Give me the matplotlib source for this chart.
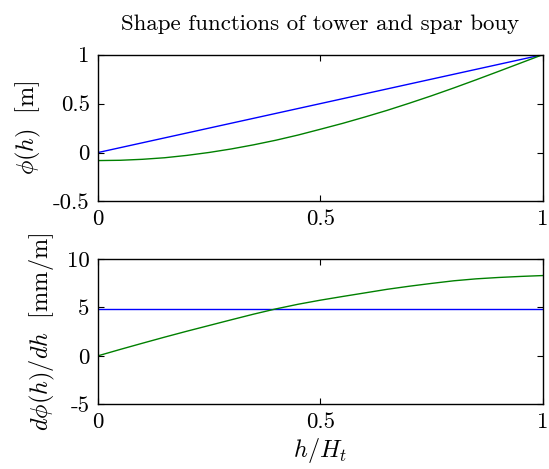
import matplotlib
matplotlib.use("Agg")
import matplotlib.pyplot as plt

plt.rcParams['font.family'] = 'serif'
plt.rcParams['font.serif'] = ['cmr10', 'DejaVu Serif']
plt.rcParams['mathtext.fontset'] = 'cm'
plt.rcParams['axes.unicode_minus'] = False

h = [0.00, 0.05, 0.10, 0.15, 0.20, 0.25, 0.30, 0.35, 0.40, 0.45, 0.50,
     0.55, 0.60, 0.65, 0.70, 0.75, 0.80, 0.85, 0.90, 0.95, 1.00]
phi_tower = [0.00, 0.05, 0.10, 0.15, 0.20, 0.25, 0.30, 0.35, 0.40, 0.45, 0.50,
             0.55, 0.60, 0.65, 0.70, 0.75, 0.80, 0.85, 0.90, 0.95, 1.00]
phi_spar = [-0.082, -0.079, -0.069, -0.053, -0.029, 0.001, 0.037, 0.079, 0.126, 0.179, 0.238,
            0.298, 0.363, 0.431, 0.504, 0.580, 0.660, 0.743, 0.828, 0.914, 1.000]
dphi_tower = [4.84] * 21
dphi_spar = [0.00, 0.66, 1.30, 1.93, 2.54, 3.13, 3.72, 4.30, 4.84, 5.32, 5.74,
             6.12, 6.49, 6.86, 7.18, 7.47, 7.74, 7.94, 8.08, 8.19, 8.28]

xticks = [0, 0.5, 1]
xticklabels = ['0', '0.5', '1']
yticks_top = [-0.5, 0, 0.5, 1]
yticklabels_top = ['-0.5', '0', '0.5', '1']
yticks_bot = [-5, 0, 5, 10]
yticklabels_bot = ['-5', '0', '5', '10']

fig = plt.figure(figsize=(5.49, 4.69), dpi=100)
ax1 = fig.add_axes([0.1785, 0.5704, 0.810, 0.313])
ax2 = fig.add_axes([0.1785, 0.138, 0.810, 0.310])

fs = 16.5
for ax in (ax1, ax2):
    ax.tick_params(direction='in', top=True, right=True, length=4, width=0.8,
                   labelsize=fs, pad=6)
    for s in ax.spines.values():
        s.set_linewidth(1.0)
    ax.set_xlim(0, 1)
    ax.set_xticks(xticks)
    ax.set_xticklabels(xticklabels)

ax1.plot(h, phi_tower, color=(0, 0, 1), lw=1.0)
ax1.plot(h, phi_spar, color=(0, 0.5, 0), lw=1.0)
ax1.set_ylim(-0.5, 1)
ax1.set_yticks(yticks_top)
ax1.set_yticklabels(yticklabels_top)
ax1.set_ylabel(r'$\phi(h)\ \ \mathrm{[m]}$', fontsize=17.5, labelpad=7)
ax1.set_title('Shape functions of tower and spar bouy', fontsize=16.5, pad=18)

ax2.plot(h, dphi_tower, color=(0, 0, 1), lw=1.0)
ax2.plot(h, dphi_spar, color=(0, 0.5, 0), lw=1.0)
ax2.set_ylim(-5, 10)
ax2.set_yticks(yticks_bot)
ax2.set_yticklabels(yticklabels_bot)
ax2.set_ylabel(r'$d\phi(h)/dh\ \ \mathrm{[mm/m]}$', fontsize=17.5, labelpad=7)
ax2.set_xlabel(r'$h/H_t$', fontsize=17.5, labelpad=3)

fig.savefig('out.png', dpi=100)
